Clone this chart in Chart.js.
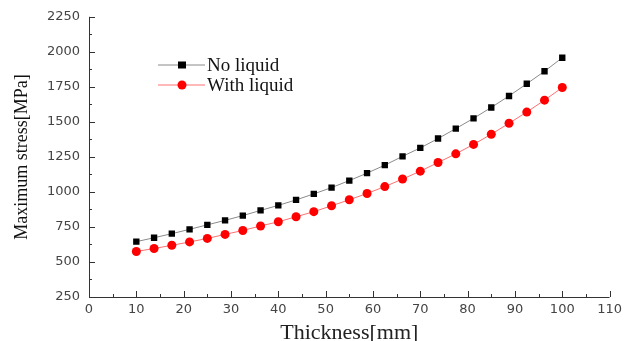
<!DOCTYPE html>
<html lang="en">
<head>
<meta charset="UTF-8">
<title>Maximum stress vs thickness</title>
<script src="https://cdn.jsdelivr.net/npm/chart.js@4/dist/chart.umd.min.js"></script>
<style>
    html, body { margin: 0; padding: 0; background: #fff; }
    .wrap { width: 627px; height: 341px; position: relative; }
</style>
</head>
<body>
<div class="wrap"><canvas id="stressChart"></canvas></div>
<script>
// thickness in mm, stress in MPa
const thickness = [10, 13.75, 17.5, 21.25, 25, 28.75, 32.5, 36.25, 40, 43.75, 47.5, 51.25, 55,
                   58.75, 62.5, 66.25, 70, 73.75, 77.5, 81.25, 85, 88.75, 92.5, 96.25, 100];
const noLiquid = [645, 673, 702, 733, 765, 797, 831, 868, 904, 943, 986, 1031, 1081,
                  1134, 1191, 1254, 1314, 1381, 1452, 1525, 1603, 1685, 1772, 1861, 1958];
const withLiquid = [575, 596, 619, 643, 668, 697, 725, 757, 787, 823, 859, 901, 944,
                    989, 1038, 1092, 1148, 1210, 1272, 1339, 1412, 1490, 1570, 1655, 1745];
const seriesNames = ['No liquid', 'With liquid'];
const xTicks = [0, 10, 20, 30, 40, 50, 60, 70, 80, 90, 100, 110];
const yTicks = [250, 500, 750, 1000, 1250, 1500, 1750, 2000, 2250];

const tickFont = { family: 'DejaVu Sans', size: 13 };
const serif = 'Liberation Serif';

// left + bottom axis with inward major/minor ticks
const axisPlugin = {
    id: 'axisTicks',
    afterDraw(chart) {
        const { ctx, chartArea: a, scales: { x, y } } = chart;
        ctx.save();
        ctx.strokeStyle = '#333';
        ctx.lineWidth = 1;
        ctx.beginPath();
        ctx.moveTo(a.left + 0.5, a.top);
        ctx.lineTo(a.left + 0.5, a.bottom + 0.5);
        ctx.lineTo(a.right, a.bottom + 0.5);
        for (let i = 0; i < xTicks.length; i++) {
            const px = Math.round(x.getPixelForValue(xTicks[i])) + 0.5;
            ctx.moveTo(px, a.bottom);
            ctx.lineTo(px, a.bottom - 6);
            if (i < xTicks.length - 1) {
                const mx = Math.round(x.getPixelForValue((xTicks[i] + xTicks[i + 1]) / 2)) + 0.5;
                ctx.moveTo(mx, a.bottom);
                ctx.lineTo(mx, a.bottom - 3);
            }
        }
        for (let i = 0; i < yTicks.length; i++) {
            const py = Math.round(y.getPixelForValue(yTicks[i])) + 0.5;
            ctx.moveTo(a.left, py);
            ctx.lineTo(a.left + 6, py);
            if (i < yTicks.length - 1) {
                const my = Math.round(y.getPixelForValue((yTicks[i] + yTicks[i + 1]) / 2)) + 0.5;
                ctx.moveTo(a.left, my);
                ctx.lineTo(a.left + 3, my);
            }
        }
        ctx.stroke();
        ctx.restore();
    }
};

// legend drawn inside the plot like the original
const legendPlugin = {
    id: 'innerLegend',
    afterDatasetsDraw(chart) {
        const { ctx } = chart;
        const rows = [65, 85];
        ctx.save();
        chart.data.datasets.forEach((ds, i) => {
            const yy = rows[i];
            ctx.strokeStyle = ds.borderColor;
            ctx.lineWidth = 1;
            ctx.beginPath();
            ctx.moveTo(158, yy);
            ctx.lineTo(205, yy);
            ctx.stroke();
            ctx.fillStyle = ds.pointBackgroundColor;
            if (ds.pointStyle === 'rect') {
                ctx.fillRect(178, yy - 3.5, 8, 7);
            } else {
                ctx.beginPath();
                ctx.arc(182, yy, 4.5, 0, Math.PI * 2);
                ctx.fill();
            }
            ctx.fillStyle = '#111';
            ctx.font = '19px "' + serif + '"';
            ctx.textBaseline = 'middle';
            ctx.fillText(ds.label, 207, yy + 1);
        });
        ctx.restore();
    }
};

const ctx = document.getElementById('stressChart').getContext('2d');
new Chart(ctx, {
    type: 'line',
    data: {
        datasets: [
            {
                label: seriesNames[0],
                data: thickness.map((t, i) => ({ x: t, y: noLiquid[i] })),
                borderColor: '#8a8a8a',
                borderWidth: 1,
                pointStyle: 'rect',
                pointRadius: 4.5,
                pointBackgroundColor: '#000',
                pointBorderColor: '#000',
                pointBorderWidth: 0
            },
            {
                label: seriesNames[1],
                data: thickness.map((t, i) => ({ x: t, y: withLiquid[i] })),
                borderColor: '#ff7070',
                borderWidth: 1,
                pointStyle: 'circle',
                pointRadius: 4.5,
                pointBackgroundColor: '#ff0000',
                pointBorderColor: '#ff0000',
                pointBorderWidth: 0
            }
        ]
    },
    options: {
        responsive: true,
        maintainAspectRatio: false,
        animation: false,
        layout: { padding: { top: 15, right: 14, left: 0, bottom: 0 } },
        plugins: {
            legend: { display: false },
            tooltip: { enabled: false }
        },
        scales: {
            x: {
                type: 'linear',
                min: 0,
                max: 110,
                afterBuildTicks: s => { s.ticks = xTicks.map(v => ({ value: v })); },
                afterFit: s => { s.height = 44; },
                grid: { display: false, drawTicks: false },
                border: { display: false },
                ticks: { font: tickFont, color: '#444', padding: 5, maxRotation: 0, callback: v => String(v) },
                title: {
                    display: true,
                    text: 'Thickness[mm]',
                    font: { family: serif, size: 22 },
                    color: '#222',
                    padding: { top: 0, bottom: -5 }
                }
            },
            y: {
                min: 250,
                max: 2250,
                afterBuildTicks: s => { s.ticks = yTicks.map(v => ({ value: v })); },
                afterFit: s => { s.width = 89; },
                grid: { display: false, drawTicks: false },
                border: { display: false },
                ticks: { font: tickFont, color: '#444', padding: 9, callback: v => String(v) },
                title: {
                    display: true,
                    text: 'Maximum stress[MPa]',
                    font: { family: serif, size: 18 },
                    color: '#111',
                    padding: { top: 11, bottom: 0 }
                }
            }
        }
    },
    plugins: [axisPlugin, legendPlugin]
});
</script>
</body>
</html>
